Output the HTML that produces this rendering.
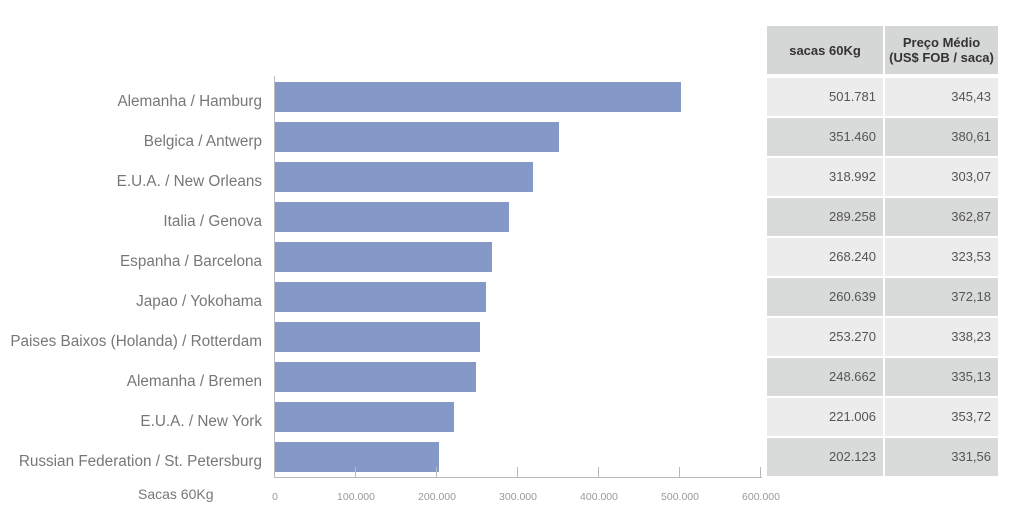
<!DOCTYPE html>
<html><head><meta charset="utf-8"><style>
body{margin:0;width:1024px;height:532px;background:#fff;overflow:hidden;font-family:"Liberation Sans",sans-serif}
.c{position:absolute;box-sizing:border-box;text-align:right;padding-right:7px;font-family:"Liberation Sans",sans-serif;font-size:13px;color:#555}
</style></head><body>
<svg width="1024" height="532" style="position:absolute;left:0;top:0" font-family="Liberation Sans, sans-serif">
<g fill="#8599c9">
<rect x="275" y="82" width="406" height="30"/>
<rect x="275" y="122" width="284" height="30"/>
<rect x="275" y="162" width="258" height="30"/>
<rect x="275" y="202" width="234" height="30"/>
<rect x="275" y="242" width="217" height="30"/>
<rect x="275" y="282" width="211" height="30"/>
<rect x="275" y="322" width="205" height="30"/>
<rect x="275" y="362" width="201" height="30"/>
<rect x="275" y="402" width="179" height="30"/>
<rect x="275" y="442" width="164" height="30"/>
</g>
<g stroke="#bbb" stroke-width="1">
<line x1="274.5" y1="76" x2="274.5" y2="477"/>
<line x1="274" y1="477.5" x2="762" y2="477.5"/>
<line x1="355.5" y1="467" x2="355.5" y2="477"/>
<line x1="436.5" y1="467" x2="436.5" y2="477"/>
<line x1="517.5" y1="467" x2="517.5" y2="477"/>
<line x1="598.5" y1="467" x2="598.5" y2="477"/>
<line x1="679.5" y1="467" x2="679.5" y2="477"/>
<line x1="760.5" y1="467" x2="760.5" y2="477"/>
</g>
<g fill="#777" font-size="15.3" text-anchor="end">
<text x="262" y="106">Alemanha / Hamburg</text>
<text x="262" y="146">Belgica / Antwerp</text>
<text x="262" y="186">E.U.A. / New Orleans</text>
<text x="262" y="226">Italia / Genova</text>
<text x="262" y="266">Espanha / Barcelona</text>
<text x="262" y="306">Japao / Yokohama</text>
<text x="262" y="346">Paises Baixos (Holanda) / Rotterdam</text>
<text x="262" y="386">Alemanha / Bremen</text>
<text x="262" y="426">E.U.A. / New York</text>
<text x="262" y="466">Russian Federation / St. Petersburg</text>
</g>
<text x="138" y="499" fill="#777" font-size="14">Sacas 60Kg</text>
<g fill="#999" font-size="10.5" text-anchor="middle">
<text x="275" y="500">0</text>
<text x="356" y="500">100.000</text>
<text x="437" y="500">200.000</text>
<text x="518" y="500">300.000</text>
<text x="599" y="500">400.000</text>
<text x="680" y="500">500.000</text>
<text x="761" y="500">600.000</text>
</g>
</svg>
<div style="position:absolute;left:767px;top:26px;width:116px;height:48px;background:#d5d6d6;font:bold 13px 'Liberation Sans',sans-serif;color:#333;display:flex;align-items:center;justify-content:center">sacas 60Kg</div>
<div style="position:absolute;left:885px;top:26px;width:113px;height:48px;background:#d5d6d6;font:bold 13px/15px 'Liberation Sans',sans-serif;color:#333;display:flex;align-items:center;justify-content:center;text-align:center">Preço Médio<br>(US$ FOB / saca)</div>
<div id="t"></div>
<script>
var d=[["501.781","345,43"],["351.460","380,61"],["318.992","303,07"],["289.258","362,87"],["268.240","323,53"],["260.639","372,18"],["253.270","338,23"],["248.662","335,13"],["221.006","353,72"],["202.123","331,56"]];
var h="";d.forEach(function(r,i){var bg=i%2?"#d9dada":"#ececec";var t=78+40*i;
h+='<div class="c" style="left:767px;top:'+t+'px;width:116px;height:38px;line-height:38px;background:'+bg+'">'+r[0]+'</div>';
h+='<div class="c" style="left:885px;top:'+t+'px;width:113px;height:38px;line-height:38px;background:'+bg+'">'+r[1]+'</div>';});
document.getElementById("t").innerHTML=h;
</script>
</body></html>
